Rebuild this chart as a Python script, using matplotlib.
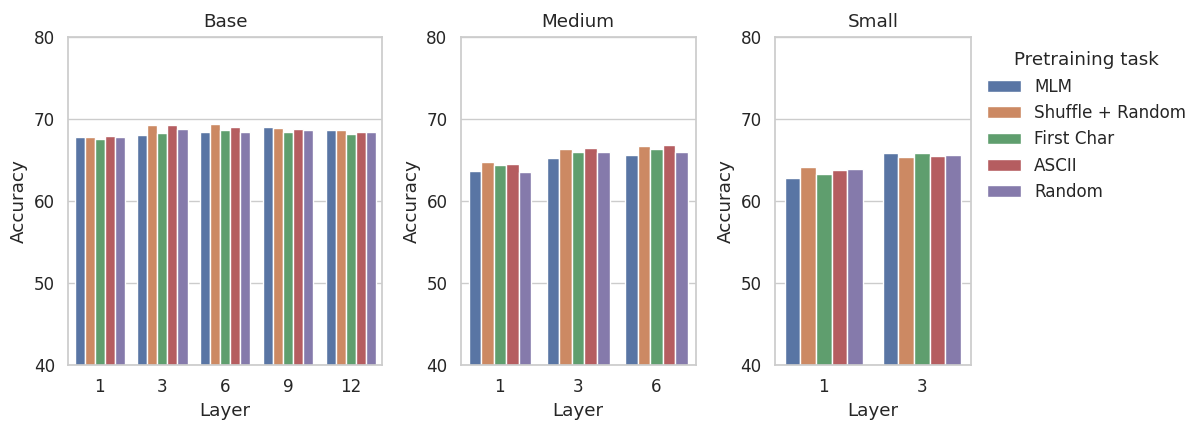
import matplotlib
matplotlib.use("Agg")
import matplotlib.pyplot as plt
import seaborn as sns
import pandas as pd

tasks = ["MLM", "Shuffle + Random", "First Char", "ASCII", "Random"]

base_layers = ["1", "3", "6", "9", "12"]
base_mlm = [67.8, 68.05, 68.45, 69.05, 68.65]
base_shuffle = [67.8, 69.3, 69.4, 68.85, 68.6]
base_first = [67.55, 68.25, 68.65, 68.45, 68.2]
base_ascii = [67.9, 69.3, 69.0, 68.8, 68.4]
base_random = [67.8, 68.8, 68.45, 68.6, 68.4]

medium_layers = ["1", "3", "6"]
medium_mlm = [63.65, 65.25, 65.65]
medium_shuffle = [64.7, 66.35, 66.65]
medium_first = [64.35, 66.0, 66.35]
medium_ascii = [64.5, 66.45, 66.85]
medium_random = [63.55, 66.0, 66.0]

small_layers = ["1", "3"]
small_mlm = [62.85, 65.8]
small_shuffle = [64.2, 65.4]
small_first = [63.25, 65.8]
small_ascii = [63.8, 65.5]
small_random = [63.9, 65.6]

panel_titles = ["Base", "Medium", "Small"]


def make_df(layers, series):
    rows = []
    for task, vals in zip(tasks, series):
        for layer, v in zip(layers, vals):
            rows.append({"Layer": layer, "Accuracy": v, "Pretraining task": task})
    return pd.DataFrame(rows)


panels = [
    (base_layers, [base_mlm, base_shuffle, base_first, base_ascii, base_random]),
    (medium_layers, [medium_mlm, medium_shuffle, medium_first, medium_ascii, medium_random]),
    (small_layers, [small_mlm, small_shuffle, small_first, small_ascii, small_random]),
]

sns.set_theme(style="whitegrid", palette="deep")
plt.rcParams["font.family"] = ["DejaVu Sans"]
fs_big = 13.2
fs_small = 12.1
plt.rcParams["axes.edgecolor"] = "#cccccc"
plt.rcParams["grid.color"] = "#cccccc"

W, H = 1200, 423
fig = plt.figure(figsize=(W / 100, H / 100), dpi=100)

boxes = [(68.3, 382.0), (460.7, 695.7), (775.0, 970.7)]
top, bottom = 37, 365
axes = []
for (x0, x1), (layers, series), title in zip(boxes, panels, panel_titles):
    ax = fig.add_axes([x0 / W, 1 - bottom / H, (x1 - x0) / W, (bottom - top) / H])
    df = make_df(layers, series)
    sns.barplot(data=df, x="Layer", y="Accuracy", hue="Pretraining task",
                hue_order=tasks, order=layers, errorbar=None, ax=ax)
    ax.set_ylim(40, 80)
    ax.set_yticks([40, 50, 60, 70, 80])
    ax.set_title(title, fontsize=fs_big, pad=7.5)
    ax.set_xlabel("Layer", fontsize=fs_big)
    ax.set_ylabel("Accuracy", fontsize=fs_big)
    ax.tick_params(labelsize=fs_small)
    ax.tick_params(axis="y", labelleft=True)
    for s in ax.spines.values():
        s.set_color("#cccccc")
        s.set_linewidth(1.25)
    handles, labels = ax.get_legend_handles_labels()
    ax.get_legend().remove()
    axes.append(ax)

leg = fig.legend(handles, labels, title="Pretraining task", loc="upper left",
                 bbox_to_anchor=(972 / W, 1 - 36 / H), frameon=False,
                 fontsize=fs_small, title_fontsize=fs_big, handlelength=2.0,
                 labelspacing=0.5)

fig.savefig("out.png", dpi=100)
